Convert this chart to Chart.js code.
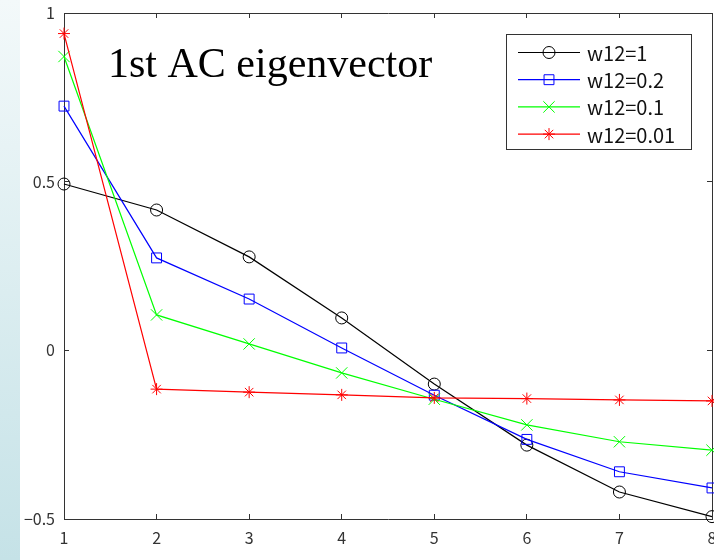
<!DOCTYPE html>
<html>
<head>
<meta charset="utf-8">
<script src="https://cdn.jsdelivr.net/npm/chart.js@4/dist/chart.umd.min.js"></script>
<style>
  body { margin: 0; background: #fff; }
  #wrap { position: relative; width: 714px; height: 560px; overflow: hidden; }
  #strip { position: absolute; left: 0; top: 0; width: 20px; height: 560px;
           background: linear-gradient(to bottom, #f3f9fa, #c5e2e7); }
  canvas { position: absolute; left: 0; top: 0; }
</style>
</head>
<body>
<div id="wrap">
  <div id="strip"></div>
  <canvas id="myChart" width="714" height="560"></canvas>
</div>
<script>
// data
const xs = ['1', '2', '3', '4', '5', '6', '7', '8'];
const yTicks = [-0.5, 0, 0.5, 1];
const titleText = '1st AC eigenvector';

const names = ['w12=1', 'w12=0.2', 'w12=0.1', 'w12=0.01'];
const w1 = [0.493, 0.416, 0.277, 0.096, -0.100, -0.281, -0.420, -0.493];
const w02 = [0.724, 0.274, 0.152, 0.007, -0.133, -0.264, -0.360, -0.408];
const w01 = [0.871, 0.105, 0.019, -0.067, -0.145, -0.221, -0.271, -0.296];
const w001 = [0.939, -0.115, -0.124, -0.132, -0.141, -0.143, -0.147, -0.150];

const colors = ['#000000', '#0000ff', '#00ff00', '#ff0000'];
const markers = ['circle', 'rect', 'crossRot', 'star'];
const radii = [6, 7, 8, 6];

const series = [w1, w02, w01, w001];

const axisColor = '#333333';
const tickFont = { family: '"Noto Sans CJK JP", "DejaVu Sans", sans-serif', size: 16 };

// title + boxed legend inside the axes, like matlab
const overlay = {
  id: 'overlay',
  afterDraw(chart) {
    const ctx = chart.ctx;
    ctx.save();
    ctx.fillStyle = '#000';
    ctx.font = '42px "Liberation Serif", "Times New Roman", serif';
    ctx.textBaseline = 'alphabetic';
    ctx.textAlign = 'left';
    ctx.fillText(titleText, 108, 77);

    // legend box
    ctx.fillStyle = '#fff';
    ctx.fillRect(506, 34, 185, 115);
    ctx.strokeStyle = axisColor;
    ctx.lineWidth = 1;
    ctx.strokeRect(506.5, 34.5, 185, 115);

    chart.data.datasets.forEach((ds, i) => {
      const y = 52.5 + i * 27.2;
      ctx.strokeStyle = ds.borderColor;
      ctx.lineWidth = 1.2;
      ctx.beginPath();
      ctx.moveTo(518, y);
      ctx.lineTo(580, y);
      ctx.stroke();
      ctx.lineWidth = 1;
      ctx.fillStyle = 'rgba(0,0,0,0)';
      Chart.helpers.drawPoint(ctx, {
        pointStyle: ds.pointStyle, radius: ds.pointRadius, rotation: 0, borderWidth: 1
      }, 549, y);
      ctx.fillStyle = '#111';
      ctx.font = '20px "Noto Sans CJK JP", "DejaVu Sans", sans-serif';
      ctx.textBaseline = 'middle';
      ctx.fillText(ds.label, 587, y + 1);
    });
    ctx.restore();
  }
};

const inward = {
  drawOnChartArea: false,
  drawTicks: true,
  tickLength: -5,
  color: axisColor,
  tickWidth: 1
};

function makeConfig() {
  const datasets = series.map((vals, i) => ({
    label: names[i],
    data: vals,
    borderColor: colors[i],
    backgroundColor: 'rgba(0,0,0,0)',
    borderWidth: 1.2,
    pointStyle: markers[i],
    pointRadius: radii[i],
    pointBorderColor: colors[i],
    pointBackgroundColor: 'rgba(0,0,0,0)',
    pointBorderWidth: 1,
    tension: 0,
    clip: false,
    order: 4 - i
  }));
  return {
    type: 'line',
    data: { labels: xs, datasets: datasets },
    options: {
      responsive: false,
      animation: false,
      layout: { padding: { top: 13, right: 2, left: 0, bottom: 0 } },
      plugins: { legend: { display: false }, tooltip: { enabled: false } },
      scales: {
        x: {
          type: 'category',
          position: 'bottom',
          offset: false,
          grid: inward,
          border: { display: true, color: axisColor, width: 1 },
          ticks: { color: '#333', font: tickFont, padding: 14, maxRotation: 0, autoSkip: false },
          afterFit: s => { s.height = 41; s.paddingLeft = 0; s.paddingRight = 0; }
        },
        x2: {
          type: 'category',
          position: 'top',
          offset: false,
          grid: inward,
          border: { display: true, color: axisColor, width: 1 },
          ticks: { display: false },
          afterFit: s => { s.height = 0; s.paddingLeft = 0; s.paddingRight = 0; }
        },
        y: {
          type: 'linear',
          position: 'left',
          min: -0.5,
          max: 1,
          afterBuildTicks: s => { s.ticks = yTicks.map(v => ({ value: v })); },
          grid: inward,
          border: { display: true, color: axisColor, width: 1 },
          ticks: {
            color: '#333', font: tickFont, padding: 14,
            callback: v => String(v).replace('-', '\u2212')
          },
          afterFit: s => { s.width = 64; s.paddingTop = 0; s.paddingBottom = 0; }
        },
        y2: {
          type: 'linear',
          position: 'right',
          min: -0.5,
          max: 1,
          afterBuildTicks: s => { s.ticks = yTicks.map(v => ({ value: v })); },
          grid: inward,
          border: { display: true, color: axisColor, width: 1 },
          ticks: { display: false },
          afterFit: s => { s.width = 0; s.paddingTop = 0; s.paddingBottom = 0; }
        }
      }
    },
    plugins: [overlay]
  };
}

// the axes box runs to x=712, the last tick label gets cut by the window edge
const canvas = document.getElementById('myChart');
let extra = 0;
let myChart = new Chart(canvas, makeConfig());
for (let k = 0; k < 4; k++) {
  const d = Math.round(712 - myChart.chartArea.right);
  if (d === 0) break;
  extra += d;
  myChart.destroy();
  canvas.width = 714 + extra;
  canvas.height = 560;
  myChart = new Chart(canvas, makeConfig());
}
</script>
</body>
</html>
